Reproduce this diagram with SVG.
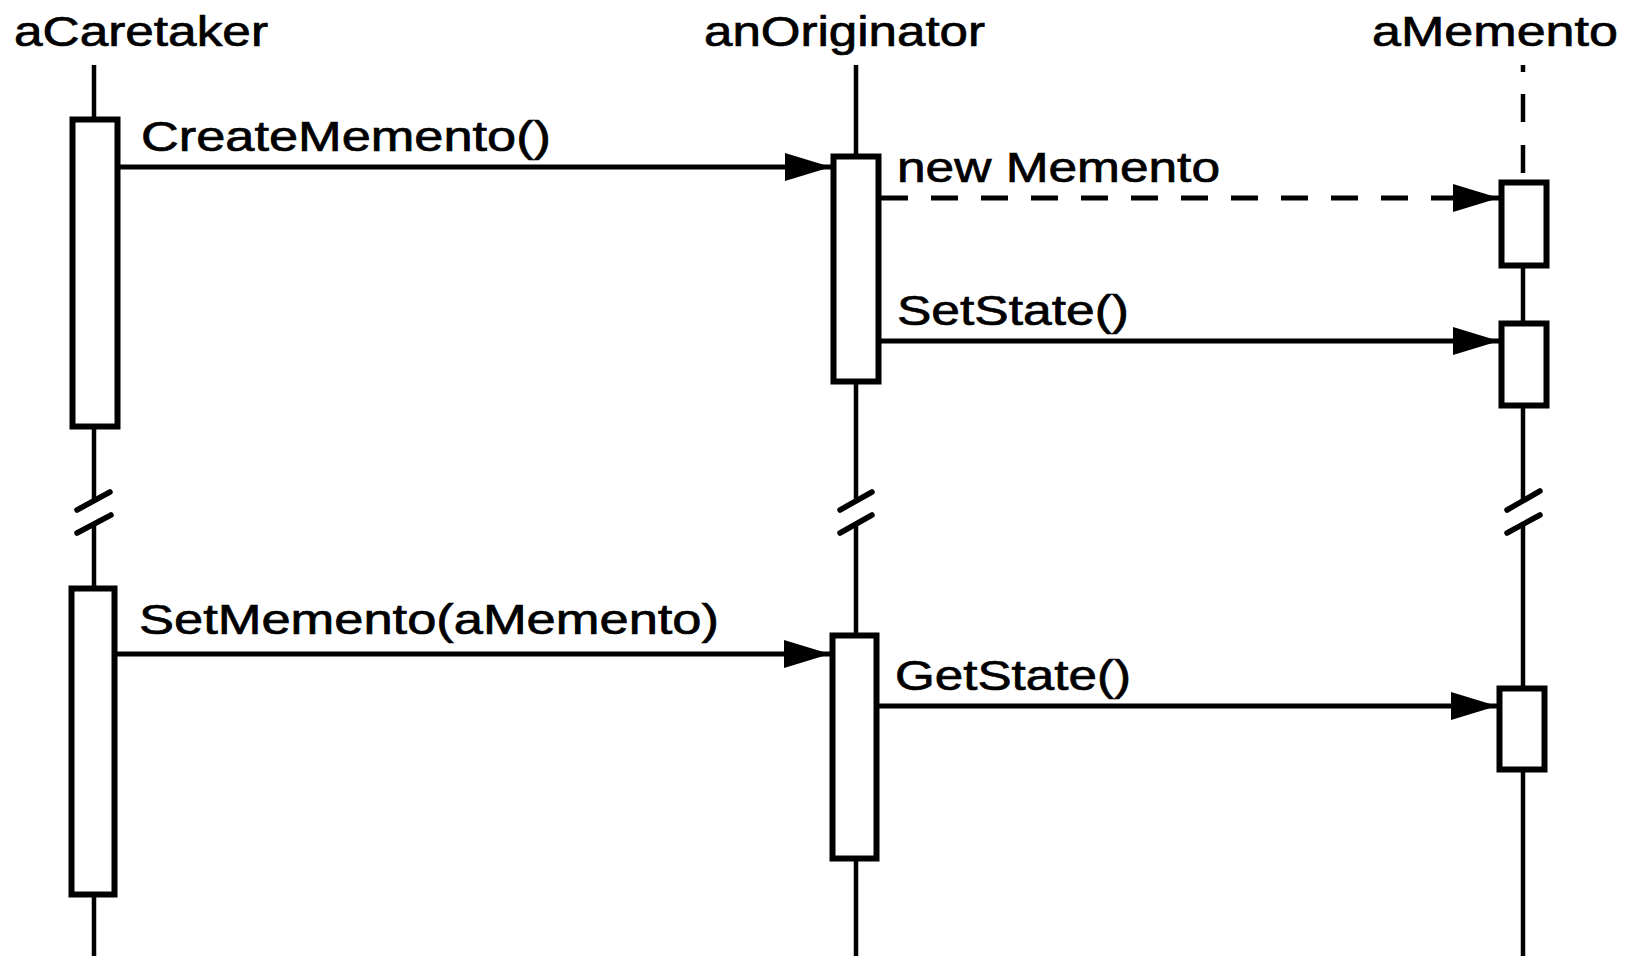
<svg xmlns="http://www.w3.org/2000/svg" width="1635" height="956" viewBox="0 0 1635 956">
<style>
text{font-family:"Liberation Sans",Arial,sans-serif;font-size:42px;fill:#000;stroke:#000;stroke-width:0.7}
.life{stroke:#000;stroke-width:4.5;fill:none}
.box{stroke:#000;stroke-width:6;fill:#fff}
.msg{stroke:#000;stroke-width:5;fill:none}
.dash{stroke-dasharray:27 23}
.brk{stroke:#000;stroke-width:5.5;stroke-linecap:round}
</style>
<defs>
<marker id="ah" markerUnits="userSpaceOnUse" markerWidth="48" markerHeight="30" refX="46" refY="14" orient="auto">
<polygon points="0,0 46,14 0,28" fill="#000"/>
</marker>
</defs>
<g id="aCaretaker">
<text x="14" y="46" textLength="254" lengthAdjust="spacingAndGlyphs">aCaretaker</text>
<line class="life" x1="94" y1="65" x2="94" y2="502"/>
<line class="life" x1="94" y1="523" x2="94" y2="956"/>
<line class="brk" x1="77" y1="510" x2="110" y2="492"/>
<line class="brk" x1="77" y1="533" x2="111" y2="515"/>
<rect class="box" x="72.5" y="119.5" width="45" height="307"/>
<rect class="box" x="71.5" y="588.5" width="43" height="306"/>
</g>
<g id="anOriginator">
<text x="704" y="46" textLength="281" lengthAdjust="spacingAndGlyphs">anOriginator</text>
<line class="life" x1="856" y1="65" x2="856" y2="502"/>
<line class="life" x1="856" y1="523" x2="856" y2="956"/>
<line class="brk" x1="840" y1="510" x2="872" y2="492"/>
<line class="brk" x1="840" y1="533" x2="872" y2="515"/>
<rect class="box" x="833.5" y="156.5" width="45" height="225"/>
<rect class="box" x="832.5" y="635.5" width="44" height="223"/>
</g>
<g id="aMemento">
<text x="1372" y="46" textLength="246" lengthAdjust="spacingAndGlyphs">aMemento</text>
<line class="life" x1="1523" y1="65" x2="1523" y2="180" stroke-dasharray="7 22 28 23 28 30"/>
<line class="life" x1="1523" y1="180" x2="1523" y2="502"/>
<line class="life" x1="1523" y1="523" x2="1523" y2="956"/>
<line class="brk" x1="1507" y1="510" x2="1540" y2="491"/>
<line class="brk" x1="1507" y1="533" x2="1540" y2="515"/>
<rect class="box" x="1501.5" y="182.5" width="45" height="83"/>
<rect class="box" x="1501.5" y="323.5" width="45" height="82"/>
<rect class="box" x="1499.5" y="688.5" width="45" height="81"/>
</g>
<g id="connectors">
<line class="msg" x1="120" y1="167" x2="831" y2="167" marker-end="url(#ah)"/>
<line class="msg dash" x1="881" y1="198" x2="1499" y2="198" marker-end="url(#ah)"/>
<line class="msg" x1="881" y1="341" x2="1499" y2="341" marker-end="url(#ah)"/>
<line class="msg" x1="117" y1="654" x2="830" y2="654" marker-end="url(#ah)"/>
<line class="msg" x1="879" y1="706" x2="1497" y2="706" marker-end="url(#ah)"/>
<text x="141" y="151" textLength="410" lengthAdjust="spacingAndGlyphs">CreateMemento()</text>
<text x="897" y="182" textLength="323" lengthAdjust="spacingAndGlyphs">new Memento</text>
<text x="897" y="325" textLength="232" lengthAdjust="spacingAndGlyphs">SetState()</text>
<text x="139" y="634" textLength="580" lengthAdjust="spacingAndGlyphs">SetMemento(aMemento)</text>
<text x="895" y="690" textLength="236" lengthAdjust="spacingAndGlyphs">GetState()</text>
</g>
</svg>
